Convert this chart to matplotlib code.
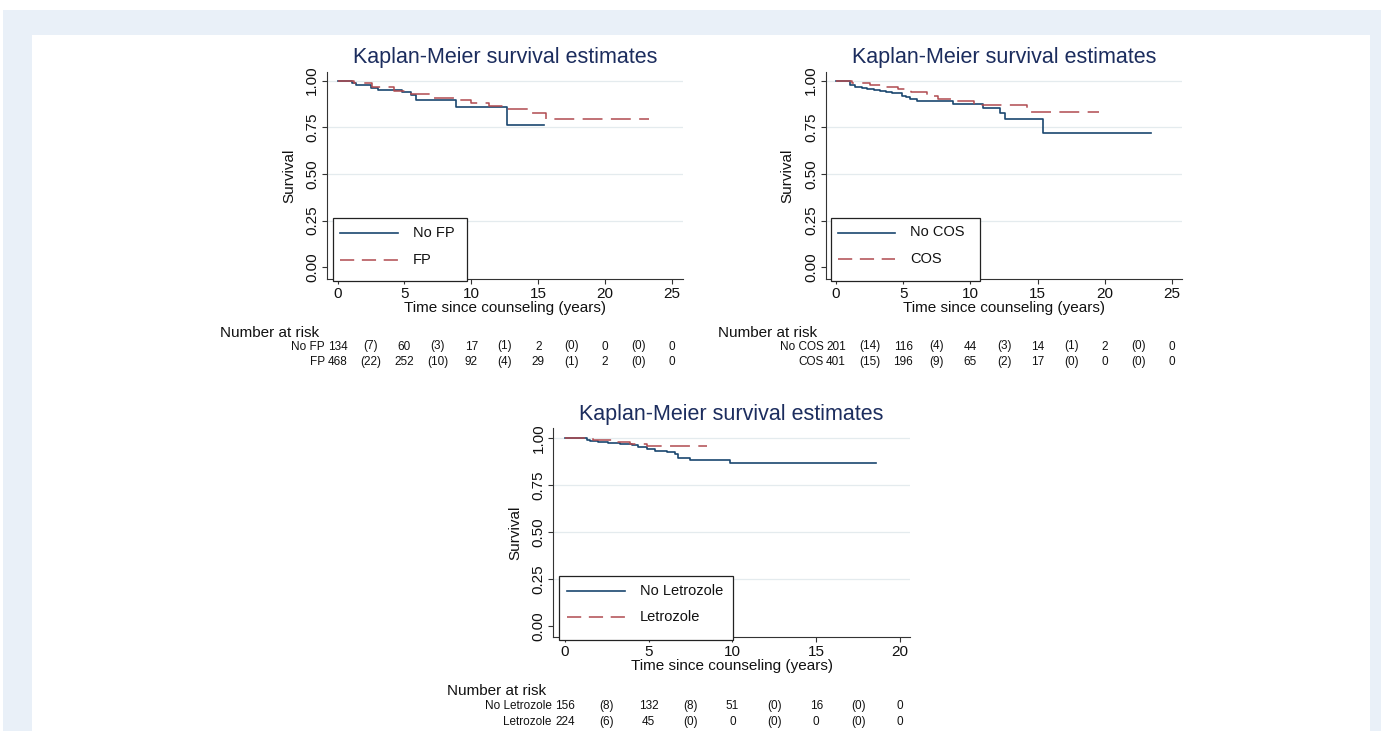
import matplotlib
matplotlib.use("Agg")
import matplotlib.pyplot as plt
from matplotlib.patches import Rectangle
from matplotlib.lines import Line2D
from matplotlib.transforms import blended_transform_factory

plt.rcParams['font.family'] = ['Liberation Sans', 'DejaVu Sans']

# ---------------- data ----------------
title_text = "Kaplan-Meier survival estimates"
xlabel_text = "Time since counseling (years)"
ylabel_text = "Survival"
yticks = [0.0, 0.25, 0.5, 0.75, 1.0]

# Panel 1: fertility preservation (FP)
p1_labels = ["No FP", "FP"]
nofp_t = [0, 1.06, 1.38, 2.48, 3.0, 4.8, 5.5, 5.87, 8.83, 12.7]
nofp_s = [1.0, 0.989, 0.975, 0.961, 0.95, 0.938, 0.923, 0.897, 0.857, 0.762]
nofp_end = 15.46
fp_t = [0, 1.2, 2.6, 4.2, 5.5, 7.0, 8.7, 10.0, 11.3, 12.7, 14.2, 15.6]
fp_s = [1.0, 0.986, 0.968, 0.946, 0.929, 0.905, 0.897, 0.879, 0.866, 0.848, 0.825, 0.793]
fp_end = 23.3
p1_xticks = [0, 5, 10, 15, 20, 25]
p1_risk_times = [0, 2.5, 5, 7.5, 10, 12.5, 15, 17.5, 20, 22.5, 25]
nofp_risk = ["134", "(7)", "60", "(3)", "17", "(1)", "2", "(0)", "0", "(0)", "0"]
fp_risk = ["468", "(22)", "252", "(10)", "92", "(4)", "29", "(1)", "2", "(0)", "0"]

# Panel 2: controlled ovarian stimulation (COS)
p2_labels = ["No COS", "COS"]
nocos_t = [0, 1.04, 1.41, 1.9, 2.28, 2.8, 3.27, 3.7, 4.14, 4.89, 5.2, 5.51, 6.0, 8.73, 10.96, 12.2, 12.57, 15.43]
nocos_s = [1.0, 0.977, 0.968, 0.962, 0.955, 0.95, 0.946, 0.939, 0.932, 0.918, 0.91, 0.900, 0.889, 0.875, 0.852, 0.825, 0.793, 0.718]
nocos_end = 23.44
cos_t = [0, 1.2, 2.5, 3.7, 4.6, 5.6, 6.8, 7.6, 9.0, 10.3, 14.2]
cos_s = [1.0, 0.99, 0.979, 0.968, 0.955, 0.941, 0.92, 0.900, 0.89, 0.868, 0.832]
cos_end = 19.6
p2_xticks = [0, 5, 10, 15, 20, 25]
p2_risk_times = [0, 2.5, 5, 7.5, 10, 12.5, 15, 17.5, 20, 22.5, 25]
nocos_risk = ["201", "(14)", "116", "(4)", "44", "(3)", "14", "(1)", "2", "(0)", "0"]
cos_risk = ["401", "(15)", "196", "(9)", "65", "(2)", "17", "(0)", "0", "(0)", "0"]

# Panel 3: letrozole
p3_labels = ["No Letrozole", "Letrozole"]
nolet_t = [0, 1.29, 1.49, 1.99, 2.59, 3.28, 3.98, 4.38, 4.88, 5.37, 6.07, 6.57, 6.77, 7.46, 9.85]
nolet_s = [1.0, 0.993, 0.984, 0.979, 0.975, 0.97, 0.963, 0.952, 0.943, 0.934, 0.927, 0.917, 0.895, 0.883, 0.870]
nolet_end = 18.55
let_t = [0, 1.7, 2.8, 3.9, 4.9]
let_s = [1.0, 0.99, 0.979, 0.97, 0.958]
let_end = 8.45
p3_xticks = [0, 5, 10, 15, 20]
p3_risk_times = [0, 2.5, 5, 7.5, 10, 12.5, 15, 17.5, 20]
nolet_risk = ["156", "(8)", "132", "(8)", "51", "(0)", "16", "(0)", "0"]
let_risk = ["224", "(6)", "45", "(0)", "0", "(0)", "0", "(0)", "0"]

# ---------------- style ----------------
W, H = 1381, 731
BLUE = "#1a476f"
RED = "#b04a4f"
TITLE_C = "#1c2d5e"
GRID_C = "#e4ebee"
AX_C = "#333333"

fig = plt.figure(figsize=(W / 100, H / 100), dpi=100)
fig.patch.set_facecolor("white")


def fx(x):
    return x / W


def fy(y):
    return 1 - y / H


fig.add_artist(Rectangle((fx(3), 0), 1, fy(10), transform=fig.transFigure,
                         facecolor="#e9f0f8", edgecolor="none", zorder=-10))
fig.add_artist(Rectangle((fx(32), 0), fx(1370 - 32), fy(35), transform=fig.transFigure,
                         facecolor="white", edgecolor="none", zorder=-9))


def step_xy(t, s, end):
    return list(t) + [end], list(s) + [s[-1]]


def panel(box, xlim, ylim, xticks, curves, labels, legend_box, leg_line_x, leg_text_x,
          leg_rows_y, risk_times, risk_rows, risk_label_x, nar_x, nar_y, rows_y):
    left, top, right, bottom = box
    ax = fig.add_axes([fx(left), fy(bottom), fx(right - left), (bottom - top) / H])
    ax.set_facecolor("none")
    ax.set_xlim(*xlim)
    ax.set_ylim(*ylim)
    for yv in yticks[1:]:
        ax.axhline(yv, color=GRID_C, lw=0.9, zorder=0)
    styles = [dict(color=BLUE, lw=1.2, ls="-"),
              dict(color=RED, lw=1.1, ls=(0, (13, 5.5)))]
    leg_styles = [dict(color=BLUE, lw=1.2, ls="-"),
                  dict(color=RED, lw=1.1, ls=(0, (9.3, 5)))]
    for (t, s, end), st in zip(curves, styles):
        xs, ys = step_xy(t, s, end)
        ax.step(xs, ys, where="post", zorder=3, **st)
    for sp in ["top", "right"]:
        ax.spines[sp].set_visible(False)
    for sp in ["left", "bottom"]:
        ax.spines[sp].set_color(AX_C)
        ax.spines[sp].set_linewidth(0.8)
    ax.set_xticks(xticks)
    ax.set_xticklabels([str(v) for v in xticks])
    ax.set_yticks(yticks)
    ax.set_yticklabels(["%.2f" % v for v in yticks], rotation=90, va="center")
    ax.tick_params(axis="both", direction="out", length=3.5, width=0.8, color=AX_C,
                   labelsize=11, labelcolor="#111111", pad=2)
    ax.tick_params(axis="x", pad=2)
    cx = (left + right) / 2
    fig.text(fx(cx), fy(top - 8.5), title_text, ha="center", va="baseline",
             fontsize=15.5, color=TITLE_C)
    fig.text(fx(cx), fy(bottom + 33), xlabel_text, ha="center", va="baseline",
             fontsize=11, color="#111111")
    fig.text(fx(left - 38), fy((top + bottom) / 2), ylabel_text, ha="center", va="center",
             rotation=90, fontsize=11, color="#111111")
    # legend
    lx0, ly0, lx1, ly1 = legend_box
    fig.add_artist(Rectangle((fx(lx0), fy(ly1)), fx(lx1 - lx0), (ly1 - ly0) / H,
                             transform=fig.transFigure, facecolor="white",
                             edgecolor="#222222", lw=0.9, zorder=5))
    for st, lab, yy in zip(leg_styles, labels, leg_rows_y):
        fig.add_artist(Line2D([fx(leg_line_x[0]), fx(leg_line_x[1])], [fy(yy), fy(yy)],
                              transform=fig.transFigure, zorder=6, **st))
        fig.text(fx(leg_text_x), fy(yy), lab, ha="left", va="center", fontsize=10.5,
                 color="#111111", zorder=6)
    # number at risk table
    tr = blended_transform_factory(ax.transData, fig.transFigure)
    fig.text(fx(nar_x), fy(nar_y), "Number at risk", ha="left", va="baseline",
             fontsize=11, color="#111111")
    for lab, row, yy in zip(labels, risk_rows, rows_y):
        ax.text(risk_label_x, fy(yy), lab, transform=tr, ha="right", va="baseline",
                fontsize=8.5, color="#111111", clip_on=False)
        for tv, val in zip(risk_times, row):
            ax.text(tv, fy(yy), val, transform=tr, ha="center", va="baseline",
                    fontsize=8.5, color="#111111", clip_on=False)
    return ax


# Panel 1
panel(box=(327, 71.7, 683, 279), xlim=(-0.785, 25.82), ylim=(-0.063, 1.048),
      xticks=p1_xticks,
      curves=[(nofp_t, nofp_s, nofp_end), (fp_t, fp_s, fp_end)], labels=p1_labels,
      legend_box=(333, 218, 466.7, 281), leg_line_x=(340, 398), leg_text_x=413,
      leg_rows_y=(233, 259.5),
      risk_times=p1_risk_times, risk_rows=[nofp_risk, fp_risk], risk_label_x=-0.95,
      nar_x=220, nar_y=336.7, rows_y=(349.5, 365))

# Panel 2
panel(box=(825.7, 71.7, 1182, 279), xlim=(-0.77, 25.74), ylim=(-0.063, 1.048),
      xticks=p2_xticks,
      curves=[(nocos_t, nocos_s, nocos_end), (cos_t, cos_s, cos_end)], labels=p2_labels,
      legend_box=(831, 218, 980, 281), leg_line_x=(838, 895), leg_text_x=910,
      leg_rows_y=(232.5, 259),
      risk_times=p2_risk_times, risk_rows=[nocos_risk, cos_risk], risk_label_x=-0.95,
      nar_x=718, nar_y=336.7, rows_y=(349.5, 365))

# Panel 3
panel(box=(553.3, 428.3, 910, 637), xlim=(-0.70, 20.6), ylim=(-0.057, 1.053),
      xticks=p3_xticks,
      curves=[(nolet_t, nolet_s, nolet_end), (let_t, let_s, let_end)], labels=p3_labels,
      legend_box=(559, 576, 733, 640), leg_line_x=(567, 625), leg_text_x=640,
      leg_rows_y=(591, 617),
      risk_times=p3_risk_times, risk_rows=[nolet_risk, let_risk], risk_label_x=-0.8,
      nar_x=446.7, nar_y=695, rows_y=(709.3, 725))

fig.savefig("out.png", dpi=100, facecolor=fig.get_facecolor())
